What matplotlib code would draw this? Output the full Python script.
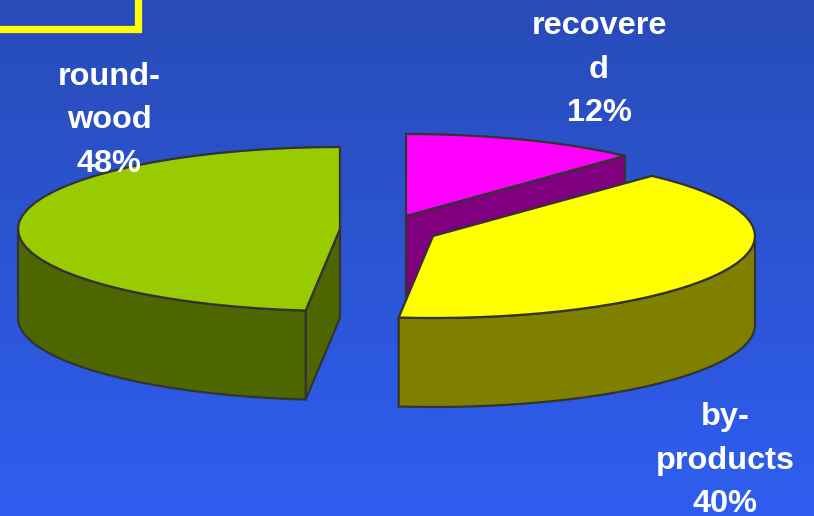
import numpy as np
import matplotlib
matplotlib.use('Agg')
import matplotlib.pyplot as plt
from matplotlib.colors import LinearSegmentedColormap
from matplotlib.patches import Polygon, Rectangle

plt.rcParams['font.family'] = ['Liberation Sans', 'DejaVu Sans']

# shares, the labels round them
names = ['round-\nwood', 'by-\nproducts', 'recovere\nd']
shares = [48.3, 39.8, 11.9]
share_labels = ['48%', '40%', '12%']
top_colors = ['#99CC00', '#FFFF00', '#FF00FF']
side_colors = ['#4D6600', '#808000', '#800080']

# picture layout in pixels
apex = [(340, 229), (433, 236), (406, 216)]
label_x = [109, 725, 599]
label_y = [85, 425, 34]
rx, ry, depth = 322, 82, 89
edge = '#333333'


def arc(cx, cy, a0, a1, drop=0):
    # a0, a1 in degrees, counter clockwise from the right, y axis points down
    t = np.radians(np.linspace(a0, a1, 40))
    return np.column_stack([cx + rx * np.cos(t), cy - ry * np.sin(t) + drop])


def face(ax, pts, color):
    ax.add_patch(Polygon(pts, closed=True, facecolor=color, edgecolor=edge,
                         linewidth=1.6, joinstyle='round'))


fig = plt.figure(figsize=(8.14, 5.16), dpi=100)
ax = fig.add_axes([0, 0, 1, 1])
ax.set_xlim(0, 814)
ax.set_ylim(516, 0)
ax.axis('off')

back = LinearSegmentedColormap.from_list('back', ['#284CB8', '#2F5EF0'])
ax.imshow(np.linspace(0, 1, 256).reshape(-1, 1), cmap=back, aspect='auto',
          extent=[0, 814, 516, 0], zorder=0)

# yellow box corner at the top left
ax.add_patch(Rectangle((-20, -20), 157.5, 49, fill=False, edgecolor='#FFFF00',
                       linewidth=5.2, joinstyle='miter'))

# slice angles from the shares, going round from the top
sweep = np.array(shares) / sum(shares) * 360
g_end = 90 + sweep[0]
m_end = 90 - sweep[2]
y_end = m_end - sweep[1]

# recovered
cx, cy = apex[2]
rim = arc(cx, cy, 90, m_end)
face(ax, [(cx, cy), tuple(rim[-1]), (rim[-1][0], rim[-1][1] + depth), (cx, cy + depth)], side_colors[2])
face(ax, np.vstack([[(cx, cy)], rim]), top_colors[2])

# by-products
cx, cy = apex[1]
rim = arc(cx, cy, m_end, y_end)
face(ax, np.vstack([arc(cx, cy, 0, y_end), arc(cx, cy, y_end, 0, depth)]), side_colors[1])
face(ax, np.vstack([[(cx, cy)], rim]), top_colors[1])

# round-wood
cx, cy = apex[0]
rim = arc(cx, cy, 90, g_end)
end = rim[-1]
face(ax, [tuple(end), (cx, cy), (cx, cy + depth), (end[0], end[1] + depth)], side_colors[0])
face(ax, np.vstack([arc(cx, cy, 180, g_end), arc(cx, cy, g_end, 180, depth)]), side_colors[0])
face(ax, np.vstack([[(cx, cy)], rim]), top_colors[0])

# labels, one text per line to hold the wide line spacing
for name, pct, x, y in zip(names, share_labels, label_x, label_y):
    for i, line in enumerate(name.split('\n') + [pct]):
        ax.text(x, y + i * 43.5, line, color='white', fontsize=23.4, fontweight='bold',
                ha='center', va='baseline', zorder=5)

fig.savefig('out.png', dpi=100)
